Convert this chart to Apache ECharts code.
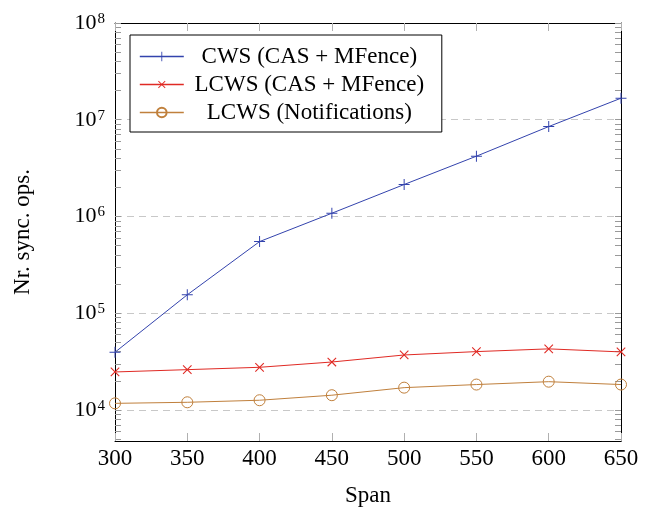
<!DOCTYPE html>
<html>
<head>
<meta charset="utf-8">
<script src="https://cdn.jsdelivr.net/npm/echarts@6/dist/echarts.min.js"></script>
<style>
html,body{margin:0;padding:0;background:#fff;}
#chart{width:649px;height:509px;}
</style>
</head>
<body>
<div id="chart"></div>
<script>
// ---- data ----
const spans = [300, 350, 400, 450, 500, 550, 600, 650];
const cwsCasMfence = [39500, 155000, 550000, 1080000, 2140000, 4200000, 8500000, 16700000];
const lcwsCasMfence = [24700, 26100, 27600, 31300, 37000, 40100, 42800, 39800];
const lcwsNotifications = [11700, 12000, 12600, 14200, 17000, 18300, 19600, 18300];
const seriesNames = ['CWS (CAS + MFence)', 'LCWS (CAS + MFence)', 'LCWS (Notifications)'];
const xTicks = [300, 350, 400, 450, 500, 550, 600, 650];
const yDecades = [1e4, 1e5, 1e6, 1e7, 1e8];
const yMinorTicks = [
  5000, 6000, 7000, 8000, 9000,
  20000, 30000, 40000, 50000, 60000, 70000, 80000, 90000,
  200000, 300000, 400000, 500000, 600000, 700000, 800000, 900000,
  2e6, 3e6, 4e6, 5e6, 6e6, 7e6, 8e6, 9e6,
  2e7, 3e7, 4e7, 5e7, 6e7, 7e7, 8e7, 9e7
];
const yMin = 4775, yMax = 1e8;

const FONT = '"Liberation Serif", "DejaVu Serif", serif';
const colors = ['#3343ad', '#e02a24', '#c0803c'];

const pairs = arr => spans.map((x, i) => [x, arr[i]]);
const plusPath = 'path://M0,4.55H10V5.45H0Z M4.55,0H5.45V10H4.55Z';

function yLabel(v) {
  const l = Math.log10(v);
  const e = Math.round(l);
  if (Math.abs(l - e) > 1e-6) return '';
  return '{b|10}{s|' + e + '}';
}

const chart = echarts.init(document.getElementById('chart'), null, {renderer: 'canvas'});
const yRich = {
  b: {fontFamily: FONT, fontSize: 22, lineHeight: 22, color: '#000'},
  s: {fontFamily: FONT, fontSize: 15, lineHeight: 15, color: '#000', padding: [0, 0, 8, 1]}
};
const tickAxisBase = {
  type: 'log', logBase: 10, min: yMin, max: yMax,
  axisTick: {show: true, inside: true, length: 6, lineStyle: {color: '#999'},
    customValues: yDecades.concat(yMinorTicks)},
  axisLabel: {show: false},
  splitLine: {show: false}
};

chart.setOption({
  animation: false,
  backgroundColor: '#fff',
  color: colors,
  grid: {left: 115, right: 28, top: 23, bottom: 68, containLabel: false, outerBoundsMode: 'none'},
  legend: {
    orient: 'vertical',
    left: 130, top: 35,
    padding: [10, 12, 8, 9],
    itemGap: 5,
    itemWidth: 44,
    itemHeight: 12,
    borderColor: '#000', borderWidth: 1, borderRadius: 0,
    backgroundColor: '#fff',
    lineStyle: {width: 1.6},
    data: seriesNames,
    formatter: name => '{t|' + name + '}',
    textStyle: {
      rich: {t: {fontFamily: FONT, fontSize: 23, color: '#000', width: 241, align: 'center', lineHeight: 24}}
    }
  },
  xAxis: [{
    type: 'value', min: 300, max: 650, interval: 50, position: 'bottom',
    name: 'Span', nameLocation: 'middle', nameGap: 43,
    nameTextStyle: {fontFamily: FONT, fontSize: 23, color: '#000'},
    axisLine: {show: true, lineStyle: {color: '#000', width: 1}},
    axisTick: {show: true, inside: true, length: 8, lineStyle: {color: '#b0b0b0'}},
    axisLabel: {fontFamily: FONT, fontSize: 23, color: '#000', margin: 6},
    splitLine: {show: false}
  }, {
    type: 'value', min: 300, max: 650, interval: 50, position: 'top',
    axisLine: {show: true, onZero: false, lineStyle: {color: '#000', width: 1}},
    axisTick: {show: true, inside: true, length: 8, lineStyle: {color: '#b0b0b0'}},
    axisLabel: {show: false},
    splitLine: {show: false}
  }],
  yAxis: [{
    type: 'log', logBase: 10, min: yMin, max: yMax, position: 'left',
    name: 'Nr. sync. ops.', nameLocation: 'middle', nameGap: 81, nameRotate: 90,
    nameTextStyle: {fontFamily: FONT, fontSize: 23, color: '#000'},
    axisLine: {show: true, lineStyle: {color: '#000', width: 1}},
    axisTick: {show: false},
    axisLabel: {show: true, margin: 10, formatter: yLabel, rich: yRich, customValues: yDecades},
    splitLine: {show: true, lineStyle: {color: '#c8c8c8', type: [7, 5], width: 1}}
  }, Object.assign({}, tickAxisBase, {
    position: 'right',
    axisLine: {show: true, onZero: false, lineStyle: {color: '#000', width: 1}}
  }), Object.assign({}, tickAxisBase, {
    position: 'left',
    axisLine: {show: false, onZero: false}
  })],
  series: [{
    name: seriesNames[0], type: 'line', data: pairs(cwsCasMfence),
    symbol: plusPath, symbolSize: 11,
    lineStyle: {color: colors[0], width: 1},
    itemStyle: {color: colors[0]}
  }, {
    name: seriesNames[1], type: 'line', data: pairs(lcwsCasMfence),
    symbol: plusPath, symbolSize: 12, symbolRotate: 45,
    lineStyle: {color: colors[1], width: 1},
    itemStyle: {color: colors[1]}
  }, {
    name: seriesNames[2], type: 'line', data: pairs(lcwsNotifications),
    symbol: 'circle', symbolSize: 11,
    lineStyle: {color: colors[2], width: 1},
    itemStyle: {color: 'rgba(255,255,255,0)', borderColor: colors[2], borderWidth: 1}
  }]
});
</script>
</body>
</html>
